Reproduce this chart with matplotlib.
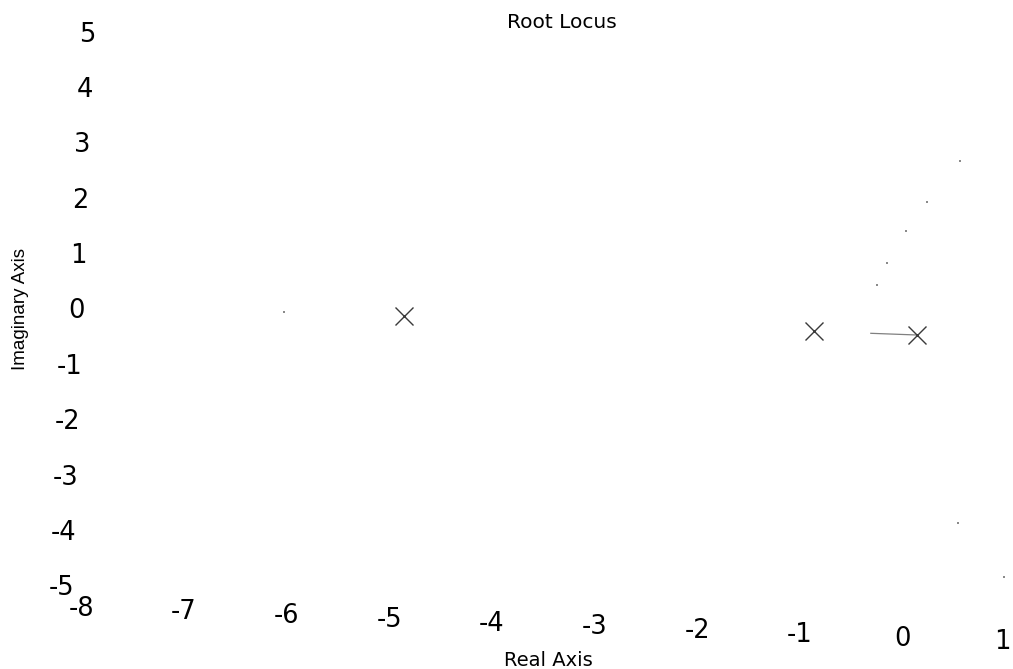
import matplotlib
matplotlib.use("Agg")
import matplotlib.pyplot as plt
from matplotlib.transforms import Affine2D

# ---- data ----
title = "Root Locus"
x_label = "Real Axis"
y_label = "Imaginary Axis"
x_ticks = [-8, -7, -6, -5, -4, -3, -2, -1, 0, 1]
y_ticks = [-5, -4, -3, -2, -1, 0, 1, 2, 3, 4, 5]

pole_re = [-5.0, -1.0, 0.0]
pole_im = [0.0, 0.0, 0.0]

# short visible branch piece between breakaway point and the pole at 0
seg_re = [-0.45, 0.0]
seg_im = [0.0, 0.0]

# faint surviving locus points
locus_re = [0.36, 0.05, -0.14, -0.32, -0.41, 0.47, 0.93, -6.17]
locus_im = [3.17, 2.41, 1.87, 1.28, 0.88, -3.36, -4.31, 0.0]

# ---- layout ----
W, H = 1013, 669
fig = plt.figure(figsize=(W / 100, H / 100), dpi=100)
fig.patch.set_facecolor("white")

ox, oy = 917.0, 335.0      # image pixel of the origin
sx, sy = 102.7, 55.4       # pixels per unit
left = ox - 8 * sx
right = ox + 1 * sx
top_img = oy - 5 * sy
bot_img = oy + 5 * sy
ax = fig.add_axes([left / W, (H - bot_img) / H, (right - left) / W, (bot_img - top_img) / H])
ax.set_facecolor("none")

# slight scan tilt of the original page
rot = Affine2D().rotate_deg_around(ox, H - oy, -2.1)
tr = ax.transData + rot

ax.plot(seg_re, seg_im, color="#808080", lw=0.9, transform=tr, clip_on=False)
ax.plot(locus_re, locus_im, ls="none", marker="s", ms=1.6, mew=0,
        color="#8a8a8a", transform=tr, clip_on=False)
ax.plot(pole_re, pole_im, ls="none", marker="x", ms=13, mew=1.0,
        color="#3a3a3a", transform=tr, clip_on=False)

ax.set_xlim(-8, 1)
ax.set_ylim(-5, 5)
ax.set_xticks(x_ticks)
ax.set_yticks(y_ticks)
ax.set_xticklabels([str(v) for v in x_ticks])
ax.set_yticklabels([str(v) for v in y_ticks])
for s in ax.spines.values():
    s.set_visible(False)
ax.tick_params(axis="both", length=0, labelsize=18.5, colors="black")
ax.tick_params(axis="x", pad=10)
ax.tick_params(axis="y", pad=8)

ax.set_title(title, fontsize=14.5, x=(562 - left) / (right - left),
             y=((H - 22) - (H - bot_img)) / (bot_img - top_img), pad=0, va="center")
ax.set_xlabel(x_label, fontsize=14)
ax.xaxis.set_label_coords((548 - left) / (right - left),
                          ((H - 660) - (H - bot_img)) / (bot_img - top_img))
ax.xaxis.label.set_va("center")
ax.set_ylabel(y_label, fontsize=13.5, family=["Liberation Sans", "DejaVu Sans"])
ax.yaxis.set_label_coords((20 - left) / (right - left),
                          ((H - 309) - (H - bot_img)) / (bot_img - top_img))
ax.yaxis.label.set_va("center")

fig.canvas.draw()
shift_x = Affine2D().translate(-4, 0)
shift_y = Affine2D().translate(0, -4)
xlabs = ax.get_xticklabels()
for lab in xlabs:
    lab.set_transform(lab.get_transform() + rot + shift_x)
xlabs[-1].set_horizontalalignment("right")
xlabs[-1].set_transform(xlabs[-1].get_transform() + Affine2D().translate(6, 0))
for lab in ax.get_yticklabels():
    lab.set_transform(lab.get_transform() + rot + shift_y)

fig.savefig("out.png", dpi=100, facecolor="white")
